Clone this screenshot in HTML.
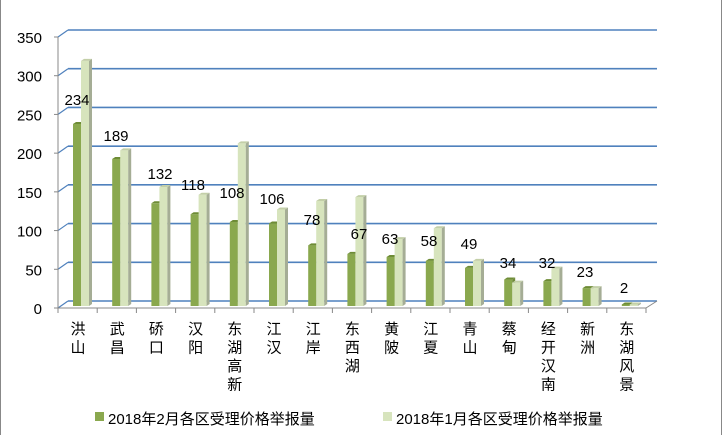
<!DOCTYPE html>
<html><head><meta charset="utf-8"><style>
body{margin:0;background:#fff}
svg{display:block}
text{font-family:"Liberation Sans","Noto Sans CJK SC",sans-serif;fill:#000}
</style></head><body>
<svg width="724" height="435" viewBox="0 0 724 435" xmlns="http://www.w3.org/2000/svg">
<rect x="0.5" y="-1" width="721" height="437" fill="#fff" stroke="#888"/>
<g id="grid"></g>
<g id="bars"></g>
<g id="labels"></g>
<g id="cats"></g>
<g font-size="15">
<rect x="95" y="412" width="9" height="9" fill="#8aa84e"/>
<text x="108" y="424">2018年2月各区受理价格举报量</text>
<rect x="383" y="412" width="9" height="9" fill="#d7e4bd"/>
<text x="396" y="424">2018年1月各区受理价格举报量</text>
</g>
<script>
const ns="http://www.w3.org/2000/svg";
function el(p,t,a,txt){const e=document.createElementNS(ns,t);for(const k in a)e.setAttribute(k,a[k]);if(txt!==undefined)e.textContent=txt;document.getElementById(p).appendChild(e);return e;}
const F=y=>306-y*0.778;
for(let v=0;v<=350;v+=50){
 const fy=308-v*0.7743, by=fy-7;
 el('grid','line',{x1:68,y1:by,x2:657,y2:by,stroke:'#4f81bd','stroke-width':1.6});
 el('grid','line',{x1:58,y1:fy,x2:68,y2:by,stroke:'#4f81bd','stroke-width':1.2});
 el('grid','line',{x1:54,y1:fy,x2:58,y2:fy,stroke:'#888'});
 el('grid','text',{x:42,y:fy+6,'font-size':15,'text-anchor':'end'},v);
}
el('grid','line',{x1:58,y1:37,x2:58,y2:308,stroke:'#888'});
el('grid','line',{x1:58,y1:308,x2:646,y2:308,stroke:'#888'});
el('grid','line',{x1:646,y1:308,x2:657,y2:301,stroke:'#888'});
for(let i=0;i<=15;i++){const x=58+39.2*i;el('grid','line',{x1:x,y1:308,x2:x,y2:313,stroke:'#888'});}
const names=["洪山","武昌","硚口","汉阳","东湖高新","江汉","江岸","东西湖","黄陂","江夏","青山","蔡甸","经开汉南","新洲","东湖风景"];
const d2=[234,189,132,118,108,106,78,67,63,58,49,34,32,23,2];
const d1=[315,200,153,143,209,124,135,140,86,100,58,30,48,23,2];
const lb=[105,141,179,190,198,204,225,239,244,246,249,268,268,277,293];
const lx=[77,116,160,193,232,272,312,359,390,429,469,508,547,585,624];
function bar(x,v,c,side,top){const y=F(v);
 el('bars','rect',{x:x,y:y,width:8,height:306-y,fill:c});
 el('bars','polygon',{points:`${x+8},${y} ${x+11},${y-2} ${x+11},${304} ${x+8},306`,fill:side});
 el('bars','polygon',{points:`${x},${y} ${x+3},${y-2} ${x+11},${y-2} ${x+8},${y}`,fill:top});}
names.forEach((n,i)=>{
 const x0=58+39.2*i+15;
 bar(x0,d2[i],'#8aa84e','#6f8a3a','#6e8c36');
 bar(x0+8,d1[i],'#d7e4bd','#a5ad95','#c3cfa8');
 el('labels','text',{x:lx[i],y:lb[i],'font-size':15,'text-anchor':'middle'},d2[i]);
 [...n].forEach((ch,k)=>el('cats','text',{x:58+39.2*i+20,y:334+k*18.5,'font-size':15,'text-anchor':'middle'},ch));
});
</script>
</svg>
</body></html>
